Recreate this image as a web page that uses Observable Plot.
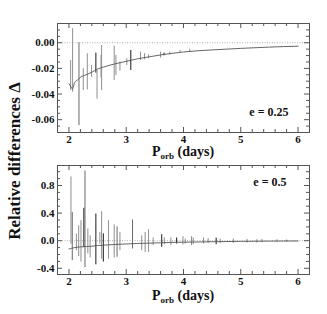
<!DOCTYPE html>
<html><head><meta charset="utf-8">
<script src="https://cdn.jsdelivr.net/npm/d3@7"></script>
<script src="https://cdn.jsdelivr.net/npm/@observablehq/plot@0.6"></script>
<style>
body{margin:0;background:#fff;}
#wrap{position:relative;width:327px;height:314px;font-family:"Liberation Serif","Times New Roman",serif;font-weight:bold;color:#111;overflow:hidden;}
.pan{position:absolute;left:0;}
.xl{position:absolute;left:57px;width:252px;text-align:center;font-size:14px;line-height:14px;white-space:nowrap;}
.xl sub{font-size:9px;vertical-align:baseline;position:relative;top:3px;}
.yl{position:absolute;left:15px;top:161px;transform:translate(-50%,-50%) rotate(-90deg);font-size:17px;white-space:nowrap;}
</style></head><body><div id="wrap"></div>
<script>
// ---- tick labels ----
const xTicks = [2, 3, 4, 5, 6];
const topYTicks = [0, -0.02, -0.04, -0.06];
const botYTicks = [0.8, 0.4, 0.0, -0.4];
const topLabel = "e = 0.25";
const botLabel = "e = 0.5";

// ---- top panel (e = 0.25) smooth trend ----
const topCurveP = [2.00,2.03,2.06,2.10,2.15,2.20,2.30,2.40,2.50,2.60,2.80,3.00,3.20,3.40,3.60,3.80,4.00,4.50,5.00,5.50,6.00];
const topCurveD = [-0.032,-0.034,-0.036,-0.031,-0.029,-0.027,-0.025,-0.023,-0.0205,-0.019,-0.0165,-0.0145,-0.0125,-0.011,-0.0095,-0.0083,-0.0072,-0.0056,-0.0044,-0.0034,-0.0027];
// resonance spikes
const topSpikeP  = [2.029,2.064,2.175,2.25,2.32,2.395,2.47,2.49,2.56,2.57,2.79,2.82,2.89,3.01,3.08,3.25,3.32,3.39,3.60,3.66,3.76,3.94,4.11];
const topSpikeLo = [-0.0373,-0.0386,-0.0646,-0.0373,-0.0368,-0.0269,-0.0237,-0.0440,-0.0274,-0.0373,-0.0295,-0.0255,-0.0221,-0.0177,-0.0216,-0.0138,-0.0133,-0.0125,-0.0120,-0.0102,-0.0094,-0.0078,-0.0068];
const topSpikeHi = [-0.0138,0.0109,0.0,-0.0203,-0.0086,-0.0177,-0.0081,-0.0216,-0.0099,-0.0021,-0.0026,-0.0099,-0.0151,-0.0125,-0.0060,-0.0073,-0.0086,-0.0094,-0.0073,-0.0081,-0.0073,-0.0060,-0.0050];
const topSpikeTone = ["light","light","mid","light","light","light","dark","light","light","light","light","light","light","light","dark","light","light","light","light","dark","light","light","light"];

// ---- bottom panel (e = 0.5) ----
const botCurveP = [2.00,2.05,2.10,2.20,2.30,2.40,2.50,2.60,2.80,3.00,3.20,3.40,3.60,3.80,4.00,4.50,5.00,5.50,6.00];
const botCurveD = [-0.12,-0.11,-0.10,-0.09,-0.085,-0.08,-0.07,-0.065,-0.055,-0.047,-0.04,-0.035,-0.03,-0.025,-0.022,-0.015,-0.01,-0.006,-0.004];
const botSpikeP  = [2.035,2.058,2.13,2.17,2.21,2.26,2.28,2.33,2.37,2.47,2.54,2.57,2.60,2.69,2.79,2.84,2.89,3.11,3.27,3.33,3.39,3.47,3.62,3.665,3.78,3.88,3.99,4.03,4.14,4.17,4.35,4.43,4.57,4.64,4.87,5.11,5.28,5.37,5.63,5.80];
const botSpikeLo = [-0.05,-0.29,-0.145,-0.23,-0.31,-0.10,-0.39,-0.19,-0.25,-0.35,-0.05,-0.27,-0.31,-0.27,-0.25,-0.24,-0.145,-0.12,-0.145,-0.17,-0.17,-0.072,-0.096,-0.058,-0.07,-0.048,-0.063,-0.048,-0.072,-0.058,-0.048,-0.039,-0.058,-0.039,-0.039,-0.034,-0.034,-0.029,-0.024,-0.019];
const botSpikeHi = [0.925,0.41,0.097,0.217,0.29,0.47,1.01,0.17,0.07,0.386,0.12,0.42,0.10,0.29,0.23,0.20,0.12,0.30,0.07,0.12,0.16,0.039,0.087,0.039,0.04,0.039,0.058,0.024,0.058,0.039,0.039,0.029,0.039,0.024,0.024,0.019,0.014,0.019,0.014,0.01];
const botSpikeTone = ["light","mid","light","light","light","dark","mid","light","light","dark","light","light","dark","light","light","mid","light","mid","light","light","light","light","dark","light","light","dark","light","light","light","light","light","light","dark","light","light","light","light","light","light","light"];

const toneColor = {light:"#8f8f8f", mid:"#6a6a6a", dark:"#1a1a1a"};

function zip(P, D){ return P.map((p,i)=>({p, d:D[i]})); }
function zipSpikes(P, L, H, T){ return P.map((p,i)=>({p, lo:L[i], hi:H[i], tone:T[i]})); }

const W = 327, ML = 57, MR = 18, FW = W - ML - MR;
const FONT = '"Liberation Serif", "Times New Roman", serif';

function panel(o){
  const FH = o.height - o.mt - o.mb;
  const xMinor = d3.range(2, 6.0001, 0.2).map(v=>+v.toFixed(2)).filter(v=>!xTicks.includes(v));
  const yMinor = d3.range(o.yMinorStart, o.yDomain[1], o.yMinorStep).map(v=>+v.toFixed(4)).filter(v=>!o.yTicks.some(t=>Math.abs(t-v)<1e-9));
  const stroke = "#555";
  return Plot.plot({
    width: W, height: o.height,
    marginLeft: ML, marginRight: MR, marginTop: o.mt, marginBottom: o.mb,
    x: {domain: [1.8, 6.2]},
    y: {domain: o.yDomain},
    style: {fontFamily: FONT, fontWeight: "bold", fontSize: "11px", color: "#111", background: "transparent", overflow: "visible"},
    marks: [
      Plot.ruleY([0], {stroke: "#999", strokeDasharray: "1,1.5", strokeWidth: 0.8}),
      Plot.ruleX(o.spikes, {x: "p", y1: "lo", y2: "hi", stroke: d => toneColor[d.tone], strokeWidth: 1}),
      Plot.line(o.curve, {x: "p", y: "d", stroke: "#555", strokeWidth: 0.9, curve: "monotone-x"}),
      Plot.frame({stroke, strokeWidth: 1}),
      // inward ticks: major
      Plot.tickY(o.yTicks, {y: d => d, insetRight: FW - 5, stroke}),
      Plot.tickY(o.yTicks, {y: d => d, insetLeft: FW - 5, stroke}),
      Plot.tickX(xTicks, {x: d => d, insetTop: FH - 5, stroke}),
      Plot.tickX(xTicks, {x: d => d, insetBottom: FH - 5, stroke}),
      // minor
      Plot.tickY(yMinor, {y: d => d, insetRight: FW - 3, stroke}),
      Plot.tickY(yMinor, {y: d => d, insetLeft: FW - 3, stroke}),
      Plot.tickX(xMinor, {x: d => d, insetTop: FH - 3, stroke}),
      Plot.tickX(xMinor, {x: d => d, insetBottom: FH - 3, stroke}),
      Plot.axisX(xTicks, {tickSize: 0, tickPadding: 3, label: null, tickFormat: d => String(d)}),
      Plot.axisY(o.yTicks, {tickSize: 0, tickPadding: 3, label: null, tickFormat: o.fmt}),
      Plot.text([o.label], {text: d => d, frameAnchor: o.labelAnchor, dx: o.ldx, dy: o.ldy, fontSize: 12, fontWeight: "bold", fill: "#111"})
    ]
  });
}

const wrap = document.getElementById("wrap");

const topPlot = panel({
  height: 160, mt: 23, mb: 28,
  yDomain: [-0.07, 0.015], yTicks: topYTicks, yMinorStart: -0.07, yMinorStep: 0.005,
  fmt: d => d.toFixed(2),
  curve: zip(topCurveP, topCurveD),
  spikes: zipSpikes(topSpikeP, topSpikeLo, topSpikeHi, topSpikeTone),
  label: topLabel, labelAnchor: "bottom-right", ldx: -21, ldy: -17
});
topPlot.classList.add("pan"); topPlot.style.top = "0px";
wrap.appendChild(topPlot);

const botPlot = panel({
  height: 154, mt: 5, mb: 40,
  yDomain: [-0.49, 1.09], yTicks: botYTicks, yMinorStart: -0.4, yMinorStep: 0.1,
  fmt: d => d.toFixed(1),
  curve: zip(botCurveP, botCurveD),
  spikes: zipSpikes(botSpikeP, botSpikeLo, botSpikeHi, botSpikeTone),
  label: botLabel, labelAnchor: "top-right", ldx: -23, ldy: 12
});
botPlot.classList.add("pan"); botPlot.style.top = "160px";
wrap.appendChild(botPlot);

for (const t of [145, 289]) {
  const d = document.createElement("div");
  d.className = "xl"; d.style.top = t + "px";
  d.innerHTML = "P<sub>orb</sub> (days)";
  wrap.appendChild(d);
}
const yl = document.createElement("div");
yl.className = "yl"; yl.textContent = "Relative differences Δ";
wrap.appendChild(yl);
</script>
</body></html>
